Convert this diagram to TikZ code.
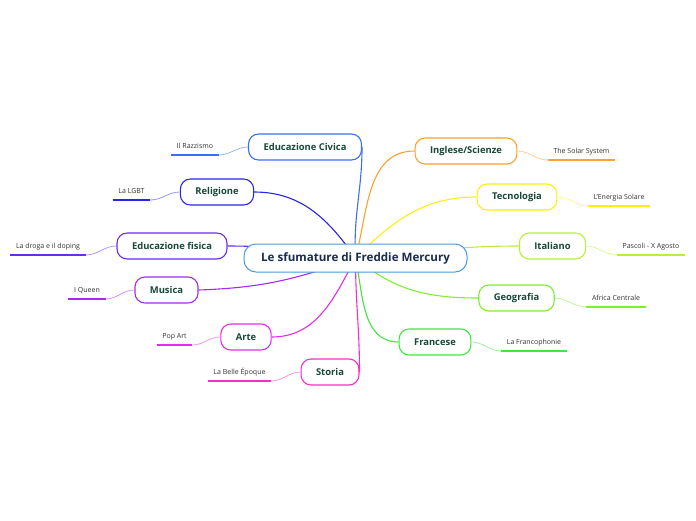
\documentclass[tikz,border=0pt]{standalone}
\usepackage{fontspec}
\setmainfont{Open Sans}
\usepackage{xcolor}
\usetikzlibrary{calc}

\definecolor{hubline}{HTML}{4A9BDA}
\definecolor{civcol}{HTML}{3B6EF5}
\definecolor{relcol}{HTML}{2626E6}
\definecolor{edfcol}{HTML}{6A2BF0}
\definecolor{muscol}{HTML}{A12BEF}
\definecolor{artcol}{HTML}{E52BEF}
\definecolor{stocol}{HTML}{FF2BC8}
\definecolor{ingcol}{HTML}{FFA030}
\definecolor{teccol}{HTML}{FFEE10}
\definecolor{itacol}{HTML}{B5F03A}
\definecolor{geocol}{HTML}{7CF030}
\definecolor{fracol}{HTML}{3EE83E}
\definecolor{topictext}{HTML}{17483A}
\definecolor{hubtext}{HTML}{1A2B50}
\definecolor{leaftext}{HTML}{333333}

\tikzset{
  topic/.style={draw=#1, line width=1.1pt, rounded corners=10pt, fill=white,
    minimum height=26pt, inner xsep=15pt, text=topictext,
    font=\bfseries\fontsize{9.4}{11}\selectfont},
  leaf/.style={anchor=south, inner xsep=5.5pt, inner ysep=4.5pt,
    text height=5.2pt, text depth=1.7pt, text=leaftext,
    font=\fontsize{7}{8}\selectfont},
  spoke/.style={draw=#1, line width=1.1pt},
  twig/.style={draw=#1!55, line width=0.7pt},
  bar/.style={draw=#1, line width=1.6pt},
}

\begin{document}
\begin{tikzpicture}[x=1pt,y=-1pt]
\useasboundingbox (0,0) rectangle (696,520);
\coordinate (hub) at (355.5,258);

% left branches
\node[topic=civcol] (civ) at (305,147) {Educazione Civica};
\node[topic=relcol] (rel) at (217,192) {Religione};
\node[topic=edfcol] (edf) at (172,246) {Educazione fisica};
\node[topic=muscol] (mus) at (166.5,290) {Musica};
\node[topic=artcol] (art) at (246,337) {Arte};
\node[topic=stocol] (sto) at (330,372) {Storia};
% right branches
\node[topic=ingcol] (ing) at (466,151) {Inglese/Scienze};
\node[topic=teccol] (tec) at (517,197) {Tecnologia};
\node[topic=itacol] (ita) at (552.5,246) {Italiano};
\node[topic=geocol] (geo) at (516.5,298) {Geografia};
\node[topic=fracol] (fra) at (435,342) {Francese};

\draw[spoke=civcol] (civ.east) to[out=-90,in=93] (hub);
\draw[spoke=relcol] (rel.east) to[out=0,in=125] (hub);
\draw[spoke=edfcol] (edf.east) to[out=0,in=172] (hub);
\draw[spoke=muscol] (mus.east) to[out=2,in=200] (hub);
\draw[spoke=artcol] (art.east) to[out=0,in=-118] (hub);
\draw[spoke=stocol] (sto.east) to[out=90,in=-90] (hub);
\draw[spoke=ingcol] (ing.west) to[out=180,in=75] (hub);
\draw[spoke=teccol] (tec.west) to[out=180,in=45] (hub);
\draw[spoke=itacol] (ita.west) to[out=180,in=5] (hub);
\draw[spoke=geocol] (geo.west) to[out=180,in=-40] (hub);
\draw[spoke=fracol] (fra.west) to[out=180,in=-78] (hub);

\node[draw=hubline, line width=1pt, rounded corners=12pt, fill=white,
  minimum height=28pt, minimum width=223pt, text=hubtext,
  font=\bfseries\fontsize{11.6}{13}\selectfont] (fm) at (hub) {Le sfumature di Freddie Mercury};

% leaves
\node[leaf] (razz) at (195,155) {Il Razzismo};
\node[leaf] (lgbt) at (131.5,200) {La LGBT};
\node[leaf] (dop) at (48,255) {La droga e il doping};
\node[leaf] (que) at (87,299) {I Queen};
\node[leaf] (pop) at (174.5,345) {Pop Art};
\node[leaf] (bel) at (239.5,381) {La Belle Époque};
\node[leaf] (sol) at (581.5,160) {The Solar System};
\node[leaf] (ene) at (619,206) {L'Energia Solare};
\node[leaf] (pas) at (651,255) {Pascoli - X Agosto};
\node[leaf] (afr) at (616,307) {Africa Centrale};
\node[leaf] (fcp) at (534,351) {La Francophonie};

\draw[bar=civcol] (razz.south west) -- (razz.south east);
\draw[twig=civcol] (razz.south east) to[out=0,in=180] (civ.west);
\draw[bar=relcol] (lgbt.south west) -- (lgbt.south east);
\draw[twig=relcol] (lgbt.south east) to[out=0,in=180] (rel.west);
\draw[bar=edfcol] (dop.south west) -- (dop.south east);
\draw[twig=edfcol] (dop.south east) to[out=0,in=180] (edf.west);
\draw[bar=muscol] (que.south west) -- (que.south east);
\draw[twig=muscol] (que.south east) to[out=0,in=180] (mus.west);
\draw[bar=artcol] (pop.south west) -- (pop.south east);
\draw[twig=artcol] (pop.south east) to[out=0,in=180] (art.west);
\draw[bar=stocol] (bel.south west) -- (bel.south east);
\draw[twig=stocol] (bel.south east) to[out=0,in=180] (sto.west);

\draw[bar=ingcol] (sol.south west) -- (sol.south east);
\draw[twig=ingcol] (ing.east) to[out=0,in=180] (sol.south west);
\draw[bar=teccol] (ene.south west) -- (ene.south east);
\draw[twig=teccol] (tec.east) to[out=0,in=180] (ene.south west);
\draw[bar=itacol] (pas.south west) -- (pas.south east);
\draw[twig=itacol] (ita.east) to[out=0,in=180] (pas.south west);
\draw[bar=geocol] (afr.south west) -- (afr.south east);
\draw[twig=geocol] (geo.east) to[out=0,in=180] (afr.south west);
\draw[bar=fracol] (fcp.south west) -- (fcp.south east);
\draw[twig=fracol] (fra.east) to[out=0,in=180] (fcp.south west);
\end{tikzpicture}
\end{document}
